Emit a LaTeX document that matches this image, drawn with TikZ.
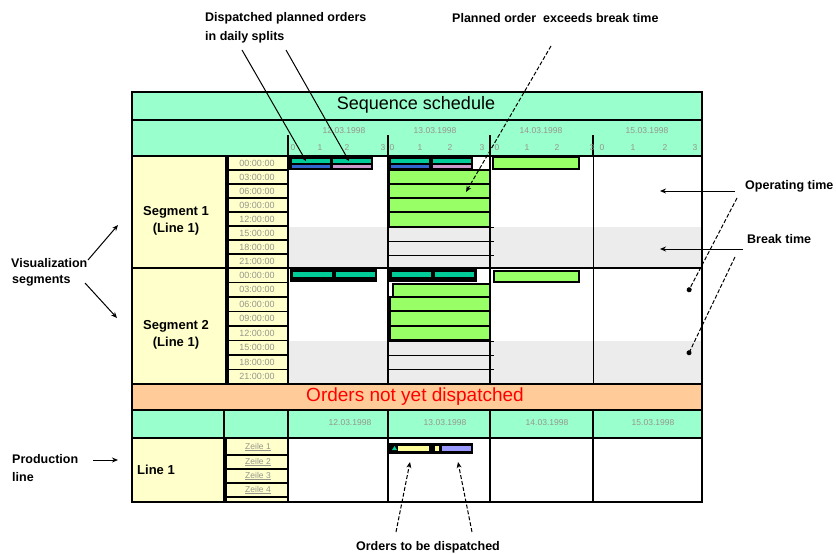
\documentclass[tikz,border=0pt]{standalone}
\usepackage{fontspec}
\setmainfont{Liberation Sans}
\usetikzlibrary{arrows.meta}
\definecolor{hgreen}{RGB}{153,255,204}
\definecolor{ylw}{RGB}{255,255,204}
\definecolor{orng}{RGB}{255,204,153}
\definecolor{bgreen}{RGB}{153,255,102}
\definecolor{tealb}{RGB}{0,204,153}
\definecolor{blu}{RGB}{51,102,204}
\definecolor{pnk}{RGB}{204,153,204}
\definecolor{lav}{RGB}{153,153,255}
\definecolor{byel}{RGB}{255,255,153}
\definecolor{brk}{RGB}{236,236,236}
\definecolor{tgray}{RGB}{150,150,140}
\begin{document}
\begin{tikzpicture}[x=1pt,y=-1pt,
  hdr/.style={fill=hgreen,draw=black,line width=1.2pt},
  ycell/.style={fill=ylw,draw=black,line width=1.2pt},
  gbar/.style={fill=bgreen,draw=black,line width=1.3pt},
  tm/.style={font=\fontsize{9}{10}\selectfont,text=tgray,inner sep=0pt},
  dt/.style={font=\fontsize{8.5}{10}\selectfont,text=tgray,inner sep=0pt},
  ann/.style={font=\bfseries\fontsize{12.5}{14}\selectfont,anchor=west,inner sep=0pt},
  lbl/.style={font=\bfseries\fontsize{13}{17}\selectfont,align=center,inner sep=0pt},
  arr/.style={line width=1pt,-{Stealth[length=6pt,width=5pt]}},
  darr/.style={line width=1pt,dash pattern=on 4pt off 2pt,-{Stealth[length=6pt,width=5pt]}},
  dotarr/.style={line width=1pt,dash pattern=on 4pt off 2pt,-{Circle[length=5pt]}}
]
\useasboundingbox (0,0) rectangle (836,554);
\fill[white] (0,0) rectangle (836,554);

% ---- header bands
\draw[hdr] (132,92) rectangle (702,120);
\node[font=\fontsize{18}{20}\selectfont,inner sep=0pt] (title) at (416,105) {Sequence schedule};
\draw[hdr] (132,120) rectangle (702,156);
\foreach \x in {288,388,490,593} \draw[line width=1.2pt] (\x,135) -- (\x,156);
\node[dt] (d12) at (344,131) {12.03.1998};
\node[dt] (d13) at (435,131) {13.03.1998};
\node[dt] (d14) at (541,131) {14.03.1998};
\node[dt] (d15) at (647,131) {15.03.1998};
\foreach \x/\n [count=\k] in {293/0,320/1,347/2,383/3,392/0,420/1,450/2,482/3,497/0,527/1,557/2,592/3,602/0,633/1,665/2,695/3}
  \node[dt] (tk\k) at (\x,148) {\n};

% ---- body background
\fill[white] (288,156) rectangle (702,384);
\fill[brk] (288,227) rectangle (702,268);
\fill[brk] (288,341) rectangle (702,384);

% ---- segment cells
\draw[ycell] (132,156) rectangle (226,268);
\draw[ycell] (132,268) rectangle (226,384);
\node[lbl] (seg1) at (176,221) {Segment 1\\(Line 1)};
\node[lbl] (seg2) at (176,335) {Segment 2\\(Line 1)};
\foreach \t [count=\i from 0] in {00,03,06,09,12,15,18,21}{
  \draw[ycell] (226,{156+14*\i}) rectangle (288,{170+14*\i});
  \node[tm] (sa\i) at (257,{163+14*\i}) {\t:00:00};
  \draw[ycell] (226,{268+14.5*\i}) rectangle (288,{282.5+14.5*\i});
  \node[tm] (sb\i) at (257,{275.25+14.5*\i}) {\t:00:00};
}
\draw[line width=3pt] (227,156) -- (227,384);
\draw[line width=2pt] (288,156) -- (288,384);

% ---- body grid
\draw[line width=2pt] (388,156) -- (388,384);
\draw[line width=1.3pt] (490,156) -- (490,384);
\draw[line width=1pt] (593,156) -- (593,384);
\draw[line width=1.5pt] (132,268) -- (702,268);

% ---- segment 1 bars
\fill[black] (288,156) rectangle (373,170);
\fill[tealb] (292,158.5) rectangle (330,163);
\fill[tealb] (333,158.5) rectangle (371,163);
\fill[blu] (292,165) rectangle (330,168);
\fill[pnk] (333,165) rectangle (371,168);
\fill[black] (388,156) rectangle (473,170);
\fill[tealb] (391,158.5) rectangle (429,163);
\fill[tealb] (433,158.5) rectangle (471,163);
\fill[blu] (391,165) rectangle (429,168);
\fill[pnk] (433,165) rectangle (471,168);
\draw[gbar] (493,157) rectangle (579,169);
\foreach \a/\b in {170/184,184/198,198/212,212/227}
  \draw[gbar] (389,\a) rectangle (490,\b);
\foreach \y in {227,241,255} \draw[line width=1pt] (388,\y) -- (494,\y);

% ---- segment 2 bars
\fill[black] (290,269) rectangle (377,282);
\fill[tealb] (293,272) rectangle (332,277);
\fill[tealb] (336,272) rectangle (375,277);
\fill[black] (388,269) rectangle (477,282);
\fill[tealb] (392,272) rectangle (431,277);
\fill[tealb] (435,272) rectangle (474,277);
\draw[gbar] (494,271) rectangle (579,282);
\foreach \a/\b/\l in {284/297/393,297/311/390,311/326/390,326/340/390}
  \draw[gbar] (\l,\a) rectangle (490,\b);
\foreach \y in {341,355,369} \draw[line width=1pt] (388,\y) -- (494,\y);

% ---- outer body frame
\draw[line width=1.3pt] (132,156) rectangle (702,384);

% ---- orders not yet dispatched
\draw[fill=orng,draw=black,line width=1.2pt] (132,384) rectangle (702,410);
\node[font=\fontsize{19}{21}\selectfont,text=red,inner sep=0pt] (notyet) at (415,397) {Orders not yet dispatched};

% ---- bottom header
\foreach \a/\b in {132/224,224/288,288/388,388/490,490/593,593/702}
  \draw[hdr] (\a,410) rectangle (\b,438);
\node[dt] (e12) at (350,423) {12.03.1998};
\node[dt] (e13) at (445,423) {13.03.1998};
\node[dt] (e14) at (547,423) {14.03.1998};
\node[dt] (e15) at (653,423) {15.03.1998};

% ---- line 1 row
\draw[ycell] (132,438) rectangle (224,502);
\node[lbl,anchor=west] (line1) at (137,470) {Line 1};
\foreach \a/\b in {438/455,455/469,469/483,483/497,497/502}
  \draw[ycell] (224,\a) rectangle (288,\b);
\foreach \y/\n in {447/1,462/2,476/3,490/4}
  \node[tm,font=\fontsize{8.5}{10}\selectfont] (z\n) at (258,\y) {\underline{Zeile \n}};
\draw[line width=3pt] (225.5,438) -- (225.5,502);
\foreach \a/\b in {288/388,388/490,490/593,593/702}
  \draw[fill=white,draw=black,line width=1.3pt] (\a,438) rectangle (\b,502);
\fill[black] (388,443) rectangle (473,454);
\fill[tealb] (392,450) -- (394.5,446) -- (397,450) -- cycle;
\fill[byel] (398,445.5) rectangle (429,450.5);
\fill[byel] (435,445.5) rectangle (439,450.5);
\fill[lav] (442,445.5) rectangle (471,450.5);
\draw[line width=1.3pt] (132,92) rectangle (702,502);

% ---- annotations
\node[ann] (disp) at (205,18) {Dispatched planned orders};
\node[ann] (daily) at (205,37) {in daily splits};
\coordinate (d1s) at (242,50); \coordinate (d1e) at (306,161);
\coordinate (d2s) at (286,50); \coordinate (d2e) at (349,161);
\draw[line width=1pt,-{Stealth[length=4pt,width=4pt]}] (d1s) -- (d1e);
\draw[line width=1pt,-{Stealth[length=4pt,width=4pt]}] (d2s) -- (d2e);

\node[ann] (pobt) at (452,18) {Planned order\ \ exceeds break time};
\coordinate (ps) at (551,46); \coordinate (pe) at (466,192);
\draw[darr] (ps) -- (pe);

\node[ann] (optime) at (745,186) {Operating time};
\coordinate (ots) at (735,191); \coordinate (ote) at (660,191);
\draw[arr] (ots) -- (ote);
\node[ann] (brtime) at (747,239) {Break time};
\coordinate (bts) at (743,249); \coordinate (bte) at (660,249);
\draw[arr] (bts) -- (bte);
\coordinate (o1s) at (737,198); \coordinate (o1e) at (688,292);
\coordinate (o2s) at (735,257); \coordinate (o2e) at (688,355);
\draw[dotarr] (o1s) -- (o1e);
\draw[dotarr] (o2s) -- (o2e);

\node[ann] (visu) at (11,263) {Visualization};
\node[ann] (segs) at (12,281) {segments};
\coordinate (v1s) at (88,260); \coordinate (v1e) at (118,225);
\coordinate (v2s) at (85,283); \coordinate (v2e) at (117,318);
\draw[arr] (v1s) -- (v1e);
\draw[arr] (v2s) -- (v2e);

\node[ann] (prod) at (12,459) {Production};
\node[ann] (pline) at (12,477) {line};
\coordinate (pls) at (93,460); \coordinate (ple) at (118,460);
\draw[arr] (pls) -- (ple);

\node[ann,anchor=center] (tobe) at (428,547) {Orders to be dispatched};
\coordinate (t1s) at (396,532); \coordinate (t1e) at (410,462);
\coordinate (t2s) at (472,532); \coordinate (t2e) at (458,462);
\draw[darr] (t1s) -- (t1e);
\draw[darr] (t2s) -- (t2e);
\end{tikzpicture}
\end{document}
